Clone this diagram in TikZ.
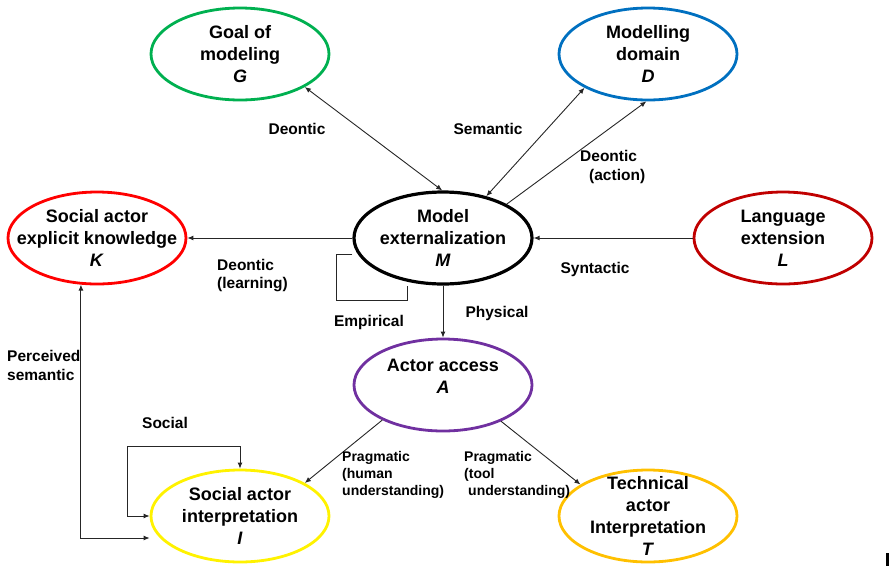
\documentclass[tikz,border=0pt]{standalone}
\usepackage{fontspec}
\setmainfont{Liberation Sans}
\usetikzlibrary{shapes.geometric}
\usetikzlibrary{arrows.meta}

\definecolor{goalgreen}{RGB}{0,176,80}
\definecolor{domainblue}{RGB}{0,112,192}
\definecolor{knowred}{RGB}{255,0,0}
\definecolor{langred}{RGB}{192,0,0}
\definecolor{accesspurple}{RGB}{112,48,160}
\definecolor{interpyellow}{RGB}{255,242,0}
\definecolor{techgold}{RGB}{255,192,0}

\begin{document}
\begin{tikzpicture}[x=1pt,y=-1pt,
  >={Latex[length=6pt,width=5pt]},
  ell/.style={ellipse,draw=#1,line width=2.8pt,minimum width=178pt,minimum height=92pt,inner sep=0pt},
  txt/.style={font=\fontsize{18}{22}\selectfont\bfseries,align=center,inner sep=0pt},
  lbl/.style={font=\fontsize{15.5}{18.5}\selectfont\bfseries,align=left,inner sep=0pt},
  smalllbl/.style={font=\fontsize{14}{17}\selectfont\bfseries,align=left,inner sep=0pt},
  con/.style={line width=0.9pt,black!85}]

\useasboundingbox (0,0) rectangle (889,566);

% Ellipses
\node[ell=goalgreen,label={[txt]center:{Goal of\\modeling\\\textit{G}}}] (G) at (240,54) {};
\node[ell=domainblue,label={[txt]center:{Modelling\\domain\\\textit{D}}}] (D) at (648,54) {};
\node[ell=black,line width=3.2pt,label={[txt]center:{Model\\externalization\\\textit{M}}}] (M) at (443,238) {};
\node[ell=knowred,label={[txt]center:{Social actor\\explicit knowledge\\\textit{K}}}] (K) at (97,238) {};
\node[ell=langred,label={[txt]center:{Language\\extension\\\textit{L}}}] (L) at (783,238) {};
\node[ell=accesspurple,label={[txt,yshift=9pt]center:{Actor access\\\textit{A}}}] (A) at (443,385) {};
\node[ell=interpyellow,label={[txt]center:{Social actor\\interpretation\\\textit{I}}}] (I) at (240,516) {};
\node[ell=techgold,label={[txt]center:{Technical\\actor\\Interpretation\\\textit{T}}}] (T) at (648,516) {};

% Connectors
\draw[con,<->] (G.-27) -- (M.91);
\draw[con,<->] (D.-152) -- (M.44);
\draw[con,->] (M.28) -- (D.-92);
\draw[con,->] (M.west) -- (K.east);
\draw[con,->] (L.west) -- (M.east);
\draw[con,->] (M.south) -- (A.north);
\draw[con,->] (A.210) -- (I.27);
\draw[con,->] (A.-32) -- (T.155);

% Loops
\draw[con] ([yshift=-16pt]M.west) -- ++(-16,0) |- ([xshift=-36pt,yshift=-15pt]M.south) -- ([xshift=-36pt]M.south);
\draw[con,<->] (I.west) -- ++(-22,0) |- ([yshift=22pt]I.north) -- (I.north);
\draw[con,<->] (K.-109) |- ([yshift=-22pt]I.west);

% Labels
\node[lbl] (lbl-gm) at (297,129) {Deontic};
\node[lbl] (lbl-sem) at (488,129) {Semantic};
\node[lbl,anchor=west] (lbl-act) at (580,167) {Deontic\\\hspace*{9pt}(action)};
\node[lbl,anchor=west] (lbl-learn) at (217,275.5) {Deontic\\(learning)};
\node[lbl] (lbl-syn) at (595,269) {Syntactic};
\node[lbl] (lbl-phys) at (497,313) {Physical};
\node[lbl] (lbl-emp) at (369,322) {Empirical};
\node[lbl,anchor=west] (lbl-perc) at (7,365.5) {Perceived\\semantic};
\node[lbl] (lbl-soc) at (165,423) {Social};
\node[smalllbl,anchor=west] (lbl-human) at (342,475) {Pragmatic\\(human\\understanding)};
\node[smalllbl,anchor=west] (lbl-tool) at (464,475) {Pragmatic\\(tool\\\hspace*{4pt}understanding)};

% Corner mark
\fill (886,553) rectangle (889,566);

\end{tikzpicture}
\end{document}
